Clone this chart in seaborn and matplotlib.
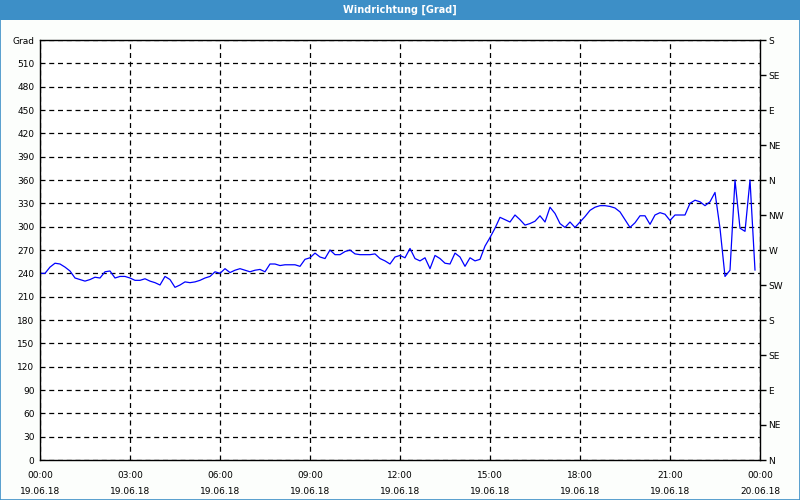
import matplotlib
matplotlib.use("Agg")
import matplotlib.pyplot as plt
import matplotlib.dates as mdates
from matplotlib.patches import Rectangle
import seaborn as sns
import pandas as pd

# ---- data ----
start_time = "2018-06-19 00:00"
step = "10min"
direction = [
    240, 240, 248, 253, 252, 248, 243, 234, 232, 230,
    232, 235, 234, 242, 243, 234, 236, 236, 234, 231,
    231, 233, 230, 228, 225, 236, 232, 222, 225, 229,
    228, 229, 231, 234, 236, 242, 240, 246, 241, 244,
    246, 244, 242, 244, 245, 242, 252, 252, 250, 251,
    251, 251, 249, 258, 260, 266, 261, 259, 270, 264,
    264, 268, 270, 265, 264, 264, 264, 265, 259, 256,
    252, 261, 263, 260, 272, 259, 256, 260, 246, 263,
    259, 253, 252, 266, 261, 249, 260, 256, 258, 275,
    286, 298, 312, 309, 306, 315, 309, 302, 304, 307,
    314, 306, 325, 317, 304, 299, 306, 299, 306, 313,
    321, 325, 327, 327, 326, 324, 319, 309, 299, 305,
    314, 314, 303, 315, 318, 316, 308, 315, 315, 315,
    330, 334, 332, 327, 332, 344, 298, 236, 244, 360,
    298, 294, 360, 244,
]
left_ticks = list(range(0, 541, 30))
left_labels = [str(v) for v in left_ticks[:-1]] + ["Grad"]
right_ticks = list(range(0, 541, 45))
right_labels = ["N", "NE", "E", "SE", "S", "SW", "W", "NW", "N", "NE", "E", "SE", "S"]
title = "Windrichtung [Grad]"

times = pd.date_range(start_time, periods=len(direction), freq=step)
df = pd.DataFrame({"time": times, "deg": direction})

sns.set_style("white")
plt.rcParams["font.family"] = ["DejaVu Sans"]

fig = plt.figure(figsize=(8, 5), dpi=100)
fig.patch.set_facecolor("#fcfefc")
# title bar
fig.patches.append(Rectangle((0, 0.96), 1, 0.04, transform=fig.transFigure,
                             facecolor="#3d8fc7", edgecolor="none", zorder=0))
fig.patches.append(Rectangle((0.0006, 0.001), 0.9988, 0.998, transform=fig.transFigure,
                             facecolor="none", edgecolor="#3d8fc7", linewidth=1.2, zorder=5))
fig.text(0.5, 0.981, title, color="white", ha="center", va="center",
         fontsize=7, fontweight="bold")

ax = fig.add_axes([0.05, 0.08, 0.90, 0.84])
ax.set_facecolor("white")
sns.lineplot(data=df, x="time", y="deg", ax=ax, color="#0000ff", linewidth=0.9)

x0 = pd.Timestamp("2018-06-19 00:00")
x1 = pd.Timestamp("2018-06-20 00:00")
ax.set_xlim(x0, x1)
ax.set_ylim(0, 540)
ax.set_xlabel("")
ax.set_ylabel("")

ax.xaxis.set_major_locator(mdates.HourLocator(byhour=range(0, 24, 3)))
ax.xaxis.set_minor_locator(mdates.HourLocator())
ax.xaxis.set_major_formatter(mdates.DateFormatter("%H:%M\n%d.%m.%y"))
ax.set_yticks(left_ticks)
ax.set_yticklabels(left_labels)

for lbl in ax.get_xticklabels():
    lbl.set_linespacing(1.95)

ax.tick_params(axis="x", which="major", direction="out", length=4, width=1,
               labelsize=6.5, colors="black", pad=4)
ax.tick_params(axis="x", which="minor", direction="out", length=4, width=1, colors="black")
ax.tick_params(axis="y", which="major", length=0, labelsize=6.5, pad=4, colors="black")

ax.grid(True, which="major", color="black", linestyle=(0, (4, 3)), linewidth=0.9)
for s in ax.spines.values():
    s.set_visible(True)
    s.set_color("black")
    s.set_linewidth(1)

ax2 = ax.twinx()
ax2.set_ylim(0, 540)
ax2.set_yticks(right_ticks)
ax2.set_yticklabels(right_labels)
ax2.tick_params(axis="y", direction="out", length=4, width=1, labelsize=6.5,
                pad=2, colors="black")
ax2.grid(False)
for s in ax2.spines.values():
    s.set_visible(False)

fig.savefig("out.png", dpi=100, facecolor=fig.get_facecolor())
